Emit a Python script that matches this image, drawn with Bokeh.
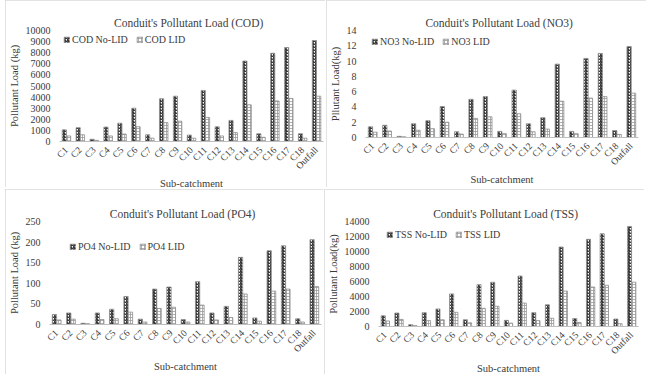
from math import pi
from bokeh.plotting import figure
from bokeh.models import (ColumnDataSource, FactorRange, FixedTicker, Legend, LegendItem,
                          Spacer, Title)
from bokeh.layouts import row, column
from bokeh.transform import dodge
from bokeh.embed import file_html
from bokeh.resources import INLINE

categories = ["C1", "C2", "C3", "C4", "C5", "C6", "C7", "C8", "C9", "C10", "C11",
              "C12", "C13", "C14", "C15", "C16", "C17", "C18", "Outfall"]

cod_nolid = [1050, 1250, 200, 1300, 1650, 3000, 600, 3850, 4080, 580, 4600, 1330, 1900,
             7250, 700, 7950, 8460, 700, 9100]
cod_lid = [500, 600, 100, 500, 670, 1330, 300, 1700, 1830, 300, 2170, 500, 800,
           3300, 380, 3650, 3880, 300, 4080]

no3_nolid = [1.4, 1.6, 0.15, 1.8, 2.2, 4.05, 0.75, 5.0, 5.35, 0.8, 6.2, 1.8, 2.6,
             9.6, 0.8, 10.35, 11.0, 0.9, 11.9]
no3_lid = [0.7, 0.85, 0.1, 0.95, 1.15, 2.0, 0.45, 2.5, 2.7, 0.5, 3.1, 0.75, 1.1,
           4.75, 0.5, 5.15, 5.35, 0.4, 5.8]

po4_nolid = [24, 28, 3, 28, 37, 68, 13, 86, 91, 12, 104, 28, 44, 163, 16, 179, 191, 14, 206]
po4_lid = [11, 13, 2, 12, 14, 30, 6, 39, 42, 6, 47, 11, 17, 74, 8, 81, 86, 6, 92]

tss_nolid = [1440, 1800, 250, 1850, 2340, 4350, 900, 5580, 5900, 820, 6730, 1850, 2900,
             10600, 1070, 11620, 12360, 1000, 13340]
tss_lid = [740, 940, 120, 780, 900, 1890, 490, 2420, 2700, 450, 3120, 780, 1100,
           4720, 530, 5260, 5500, 370, 5910]

cod_ticks = [0, 1000, 2000, 3000, 4000, 5000, 6000, 7000, 8000, 9000, 10000]
no3_ticks = [0, 2, 4, 6, 8, 10, 12, 14]
po4_ticks = [0, 50, 100, 150, 200, 250]
tss_ticks = [0, 2000, 4000, 6000, 8000, 10000, 12000, 14000]

FONT = "Liberation Serif"
TXT = "#3a3a3a"


def panel(name, nolid, lid, ticks, ylabel, fw, fh, bl, br, bt, bb, title_off, leg_margin):
    src = ColumnDataSource(dict(cat=categories, a=nolid, b=lid))
    p = figure(x_range=FactorRange(*categories, range_padding=0),
               y_range=(0, ticks[-1]), frame_width=fw, frame_height=fh,
               output_backend="svg", toolbar_location=None,
               min_border_left=bl, min_border_right=br, min_border_top=bt,
               min_border_bottom=bb)
    p.title = Title(text="Conduit's  Pollutant  Load (%s)" % name, align="center",
                    text_font=FONT, text_font_size="11.5px", text_font_style="normal",
                    text_color="#404040", offset=title_off, standoff=4)
    r1 = p.vbar(x=dodge("cat", -0.155, range=p.x_range), top="a", width=0.3, source=src,
                fill_color="white", line_color="#8c8c8c", line_width=0.8,
                hatch_pattern="right_diagonal_line", hatch_color="#1a1a1a",
                hatch_scale=3.0, hatch_weight=1.1)
    r2 = p.vbar(x=dodge("cat", 0.155, range=p.x_range), top="b", width=0.3, source=src,
                fill_color="white", line_color="#8c8c8c", line_width=0.8,
                hatch_pattern="cross", hatch_color="#9a9a9a",
                hatch_scale=3.0, hatch_weight=0.8)
    p.yaxis.ticker = FixedTicker(ticks=ticks)
    p.yaxis.axis_line_color = None
    p.yaxis.major_tick_line_color = None
    p.yaxis.minor_tick_line_color = None
    p.yaxis.axis_label = ylabel
    p.yaxis.major_label_standoff = 3
    p.yaxis.axis_label_standoff = 3
    p.xaxis.axis_label = "Sub-catchment"
    p.xaxis.axis_line_color = "#bfbfbf"
    p.xaxis.major_tick_line_color = None
    p.xaxis.minor_tick_line_color = None
    p.xaxis.major_label_orientation = pi / 4
    p.xaxis.major_label_standoff = 1
    p.xaxis.axis_label_standoff = 0
    for ax in (p.xaxis, p.yaxis):
        ax.major_label_text_font = FONT
        ax.major_label_text_font_size = "10px"
        ax.major_label_text_color = TXT
        ax.axis_label_text_font = FONT
        ax.axis_label_text_font_size = "10.5px"
        ax.axis_label_text_font_style = "normal"
        ax.axis_label_text_color = TXT
    p.xaxis.major_label_text_font_size = "9.5px"
    p.xgrid.grid_line_color = None
    p.ygrid.grid_line_color = None
    p.outline_line_color = None
    leg = Legend(items=[LegendItem(label="%s No-LID" % name, renderers=[r1]),
                        LegendItem(label="%s LID" % name, renderers=[r2])],
                 orientation="horizontal", location="top_left",
                 background_fill_alpha=0, border_line_alpha=0,
                 label_text_font=FONT, label_text_font_size="10px",
                 label_text_color=TXT, glyph_width=7, glyph_height=7,
                 label_standoff=2, spacing=8, padding=0, margin=leg_margin,
                 label_height=10, label_text_baseline="middle")
    p.add_layout(leg)
    p.styles = {"outline": "1px solid #d9d9d9", "outline-offset": "-1px"}
    return p


p1 = panel("COD", cod_nolid, cod_lid, cod_ticks, "Pollutant Load (kg)",
           264, 111, 46, 2, 26, 45, -21, 4)
p2 = panel("NO3", no3_nolid, no3_lid, no3_ticks, "Pllutant Load(kg)",
           273, 107, 39, 8, 30, 45, -12, 6)
p3 = panel("PO4", po4_nolid, po4_lid, po4_ticks, "Pollutant Load (kg)",
           272, 103, 38, 2, 32, 45, -15, 20)
p4 = panel("TSS", tss_nolid, tss_lid, tss_ticks, "Pollutant Load(kg)",
           260, 105, 54, 6, 30, 45, -25, 8)

layout = column(
    row(Spacer(width=5), p1, Spacer(width=1), p2),
    Spacer(height=2),
    row(Spacer(width=5), p3, Spacer(width=1), p4),
)

open("out.html", "w").write(file_html(layout, INLINE))
